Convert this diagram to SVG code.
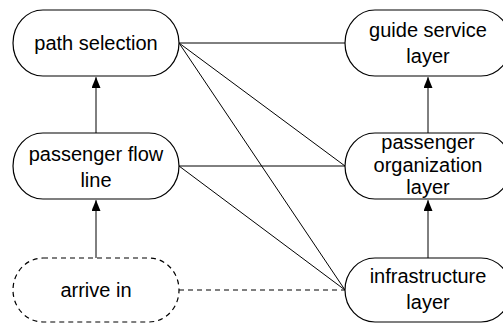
<svg xmlns="http://www.w3.org/2000/svg" width="503" height="324" viewBox="0 0 503 324">
<style>
.n{fill:#fff;stroke:#000;stroke-width:1.2}
.d{stroke-dasharray:5 4}
text{font-family:"Liberation Sans",Arial,sans-serif;font-size:20px;fill:#000;text-anchor:middle}
.c{stroke:#000;stroke-width:1;fill:none}
</style>
<defs>
<marker id="ah" markerWidth="10" markerHeight="12" refX="11" refY="4.5" orient="auto" markerUnits="userSpaceOnUse">
<path d="M0,0 L11,4.5 L0,9 Z" fill="#000"/>
</marker>
</defs>
<g id="connectors">
<line class="c" x1="179" y1="43" x2="345" y2="43"/>
<line class="c" x1="179" y1="43" x2="345" y2="166"/>
<line class="c" x1="179" y1="43" x2="345" y2="290"/>
<line class="c" x1="179" y1="166" x2="345" y2="166"/>
<line class="c" x1="179" y1="166" x2="345" y2="290"/>
<line class="c d" x1="179" y1="290" x2="345" y2="290"/>
<line class="c" x1="96" y1="133" x2="96" y2="77" marker-end="url(#ah)"/>
<line class="c" x1="96" y1="258" x2="96" y2="200" marker-end="url(#ah)"/>
<line class="c" x1="428" y1="133" x2="428" y2="77" marker-end="url(#ah)"/>
<line class="c" x1="428" y1="258" x2="428" y2="200" marker-end="url(#ah)"/>
</g>
<g id="path-selection">
<rect class="n" x="13" y="10" width="166" height="66" rx="30" ry="33"/>
<text x="96" y="50">path selection</text>
</g>
<g id="passenger-flow-line">
<rect class="n" x="13" y="133" width="166" height="66" rx="30" ry="33"/>
<text x="96" y="161">passenger flow</text>
<text x="96" y="187">line</text>
</g>
<g id="arrive-in">
<rect class="n d" x="13" y="258" width="166" height="64" rx="30" ry="32"/>
<text x="96" y="297">arrive in</text>
</g>
<g id="guide-service-layer">
<rect class="n" x="345" y="10" width="166" height="66" rx="30" ry="33"/>
<text x="428" y="37">guide service</text>
<text x="428" y="63">layer</text>
</g>
<g id="passenger-organization-layer">
<rect class="n" x="345" y="133" width="166" height="66" rx="30" ry="33"/>
<text x="428" y="149">passenger</text>
<text x="428" y="172">organization</text>
<text x="428" y="194">layer</text>
</g>
<g id="infrastructure-layer">
<rect class="n" x="345" y="258" width="166" height="64" rx="30" ry="32"/>
<text x="428" y="283">infrastructure</text>
<text x="428" y="309">layer</text>
</g>
</svg>
